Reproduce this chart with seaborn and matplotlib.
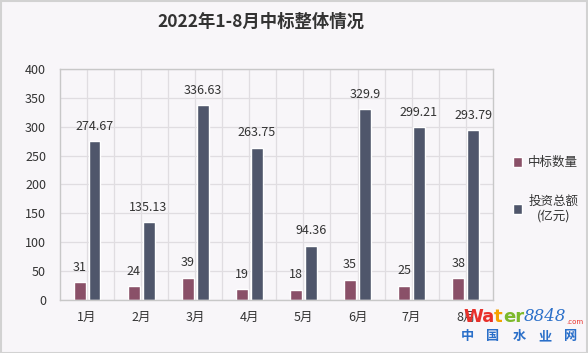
import pandas as pd
import matplotlib
matplotlib.use('Agg')
import matplotlib.pyplot as plt
from matplotlib.patches import Rectangle
import seaborn as sns

months = ['1月', '2月', '3月', '4月', '5月', '6月', '7月', '8月']
bid_count = [31, 24, 39, 19, 18, 35, 25, 38]
invest_total = [274.67, 135.13, 336.63, 263.75, 94.36, 329.9, 299.21, 293.79]
series_names = ['中标数量', '投资总额\n(亿元)']

bg = '#F8F6F9'
colors = ['#8A5068', '#4F566B']

df = pd.DataFrame({
    'month': months * 2,
    'series': [series_names[0]] * len(months) + [series_names[1]] * len(months),
    'value': bid_count + invest_total,
})

sns.set_style('white')
plt.rcParams['font.family'] = ['Noto Sans CJK SC', 'DejaVu Sans']

fig = plt.figure(figsize=(5.88, 3.53), dpi=100, facecolor=bg)
ax = fig.add_axes([0.102, 0.150, 0.736, 0.655])
ax.set_facecolor(bg)

sns.barplot(data=df, x='month', y='value', hue='series', palette=colors,
            width=0.55, gap=0.2, saturation=1, ax=ax)

for cont in ax.containers:
    ax.bar_label(cont, fmt='%g', padding=6, fontsize=9, color='#333333')

ax.set_ylim(0, 400)
ax.set_yticks(range(0, 401, 50))
ax.set_xlim(-0.5, len(months) - 0.5)
ax.set_xticks([i + 0.5 for i in range(len(months) - 1)], minor=True)
ax.grid(True, which='both', color='#E0DDE1', lw=0.9)
ax.set_axisbelow(True)
for s in ax.spines.values():
    s.set_color('#C8C8C8')
    s.set_linewidth(1.0)
ax.tick_params(axis='both', which='both', length=0, labelsize=9, colors='#333333')
ax.tick_params(axis='x', pad=8)
ax.tick_params(axis='y', pad=10)
ax.set_xlabel('')
ax.set_ylabel('')

leg = ax.legend(loc='upper left', bbox_to_anchor=(1.02, 0.67), frameon=False,
                handlelength=0.75, handleheight=0.75, handletextpad=0.5,
                labelspacing=2.0, fontsize=9)
for t in leg.get_texts():
    t.set_color('#333333')
    t.set_multialignment('center')

fig.text(0.444, 0.938, '2022年1-8月中标整体情况', ha='center', va='center',
         fontsize=12.5, fontweight='bold', color='#333333')

# watermark (site logo), pieces chained left to right
renderer = fig.canvas.get_renderer()
pieces = [('Wa', '#E8302A', dict(fontsize=13, fontweight='bold', family='DejaVu Sans')),
          ('t', '#F5A200', dict(fontsize=13, fontweight='bold', family='DejaVu Sans')),
          ('er', '#7DB92B', dict(fontsize=13, fontweight='bold', family='DejaVu Sans')),
          ('8848', '#2A6FC9', dict(fontsize=12, style='italic', family='DejaVu Serif')),
          ('.com', '#E8302A', dict(fontsize=5, family='DejaVu Sans'))]
x_px = 463
for txt, c, kw in pieces:
    y = 0.102 if txt != '.com' else 0.088
    t = fig.text(x_px / 588, y, txt, color=c, ha='left', va='center', **kw)
    x_px = t.get_window_extent(renderer).x1
for i, ch in enumerate('中国水业网'):
    fig.text((467 + i * 26) / 588, 0.048, ch, fontsize=9.5, fontweight='bold',
             color='#2A6FC9', ha='center', va='center')

fig.patches.append(Rectangle((0.001, 0.001), 0.997, 0.997, transform=fig.transFigure,
                             fill=False, edgecolor='#D2D2D2', lw=1.5))

fig.savefig('out.png', dpi=100, facecolor=bg)
